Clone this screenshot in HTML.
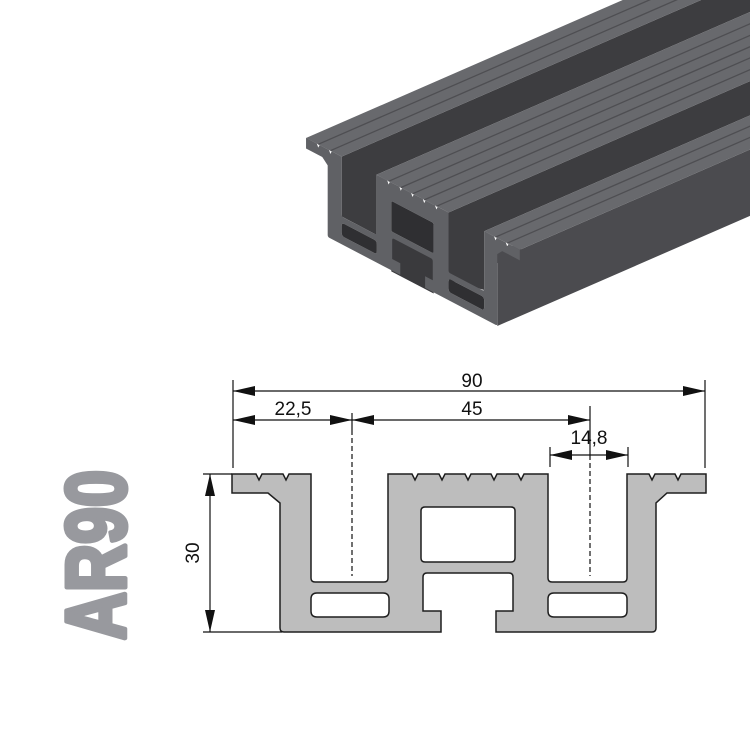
<!DOCTYPE html>
<html><head><style>body{margin:0;background:#fff}svg{display:block}</style></head>
<body>
<svg width="750" height="750" viewBox="0 0 750 750" xmlns="http://www.w3.org/2000/svg" font-family="Liberation Sans, sans-serif">
<defs>
<path id="prof" fill-rule="evenodd" d="M232,474 H256 L259,480 L262,474 H283 L286,480 L289,474 H311 V578 Q311,582 315,582 H384 Q388,582 388,578 V474 H412 L415,480 L418,474 H439 L442,480 L445,474 H465 L468,480 L471,474 H491 L494,480 L497,474 H518 L521,480 L524,474 H548 V578 Q548,582 552,582 H623 Q627,582 627,578 V474 H649 L652,480 L655,474 H675 L678,480 L681,474 H706 V493 H667 L656,503 V628 Q656,632 652,632 H496 V611 H513 V577 Q513,573 509,573 H427 Q423,573 423,577 V611 H441 V632 H284 Q280,632 280,628 V503 L268,493 H232 Z
M425,507 H511 Q515,507 515,511 V558 Q515,562 511,562 H425 Q421,562 421,558 V511 Q421,507 425,507 Z
M317,593 H383 Q389,593 389,599 V611 Q389,617 383,617 H317 Q311,617 311,611 V599 Q311,593 317,593 Z
M554,593 H621 Q627,593 627,599 V611 Q627,617 621,617 H554 Q548,617 548,611 V599 Q548,593 554,593 Z"/>
</defs>

<g>
<polygon fill="#3d3d40" points="1041.7,-148.4 341.7,156.6 341.7,216.5 376.4,234.7 376.4,174.8 1076.4,-130.2"/>
<polygon fill="#3d3d40" points="1148.5,-92.5 448.5,212.5 448.5,280 484.2,290 484.2,231.2 1184.2,-73.8"/>
<polygon fill="#4b4b4f" points="1219.8,-55.2 519.8,249.8 519.8,260.3 497.3,260.3 497.3,326 1197.3,21"/>
<polygon fill="#4b4b4f" points="494,246 521,246 521,263 494,263"/>
<polygon fill="#68696d" points="1006,-167 306,138 341.7,156.6 1041.7,-148.4"/>
<polygon fill="#68696d" points="1076.4,-130.2 376.4,174.8 448.5,212.5 1148.5,-92.5"/>
<polygon fill="#68696d" points="1184.2,-73.8 484.2,231.2 519.8,249.8 1219.8,-55.2"/>
<g stroke="#4e4e52" stroke-width="1.3">
<line x1="318.2" y1="144.3" x2="1018.2" y2="-160.7"/>
<line x1="330.4" y1="150.7" x2="1030.4" y2="-154.3"/>
<line x1="388.6" y1="181.3" x2="1088.6" y2="-123.7"/>
<line x1="400.7" y1="187.6" x2="1100.7" y2="-117.4"/>
<line x1="412.5" y1="193.8" x2="1112.5" y2="-111.2"/>
<line x1="424.2" y1="199.9" x2="1124.2" y2="-105.1"/>
<line x1="436.4" y1="206.3" x2="1136.4" y2="-98.7"/>
<line x1="495.5" y1="237.1" x2="1195.5" y2="-67.9"/>
<line x1="507.2" y1="243.2" x2="1207.2" y2="-61.8"/>
</g>
<g transform="matrix(0.451 0.236 0 0.555 201.4 -179.9)">
<rect x="421" y="571" width="94" height="63" fill="#3a3a3d"/>
<use href="#prof" fill="#606165"/>
<path fill="#2f2f32" d="M425,507 H511 Q515,507 515,511 V558 Q515,562 511,562 H425 Q421,562 421,558 V511 Q421,507 425,507 Z M317,593 H383 Q389,593 389,599 V611 Q389,617 383,617 H317 Q311,617 311,611 V599 Q311,593 317,593 Z M554,593 H621 Q627,593 627,599 V611 Q627,617 621,617 H554 Q548,617 548,611 V599 Q548,593 554,593 Z"/>
</g>
</g>

<text transform="translate(125,640) rotate(-90)" font-size="84" font-weight="bold" fill="#98999e" stroke="#98999e" stroke-width="5" stroke-linejoin="round" textLength="170" lengthAdjust="spacingAndGlyphs">AR90</text>

<use href="#prof" fill="#bdbdbd" stroke="#1e1e1e" stroke-width="1.5"/>

<g stroke="#111" stroke-width="1.2" fill="none">
<line x1="233" y1="380" x2="233" y2="468"/>
<line x1="705" y1="380" x2="705" y2="468"/>
<line x1="233" y1="391" x2="705" y2="391"/>
<line x1="233" y1="420" x2="590" y2="420"/>
<line x1="352" y1="413" x2="352" y2="430"/>
<line x1="352" y1="430" x2="352" y2="576" stroke-dasharray="5,3"/>
<line x1="590" y1="406" x2="590" y2="455"/>
<line x1="590" y1="455" x2="590" y2="576" stroke-dasharray="5,3"/>
<line x1="550" y1="447" x2="550" y2="467"/>
<line x1="628" y1="447" x2="628" y2="467"/>
<line x1="550" y1="455" x2="628" y2="455"/>
<line x1="203" y1="474" x2="232" y2="474"/>
<line x1="203" y1="632" x2="282" y2="632"/>
<line x1="210" y1="474" x2="210" y2="632"/>
</g>
<g fill="#111">
<polygon points="233,391 255,386 255,396"/>
<polygon points="705,391 683,386 683,396"/>
<polygon points="233,420 255,415 255,425"/>
<polygon points="352,420 330,415 330,425"/>
<polygon points="352,420 374,415 374,425"/>
<polygon points="590,420 568,415 568,425"/>
<polygon points="550,455 572,450 572,460"/>
<polygon points="628,455 606,450 606,460"/>
<polygon points="210,474 205,496 215,496"/>
<polygon points="210,632 205,610 215,610"/>
</g>
<g font-size="19" fill="#111" text-anchor="middle">
<text x="472" y="387">90</text>
<text x="293" y="415">22,5</text>
<text x="472" y="415">45</text>
<text x="589" y="444">14,8</text>
<text transform="translate(199,553) rotate(-90)">30</text>
</g>
</svg>
</body></html>
